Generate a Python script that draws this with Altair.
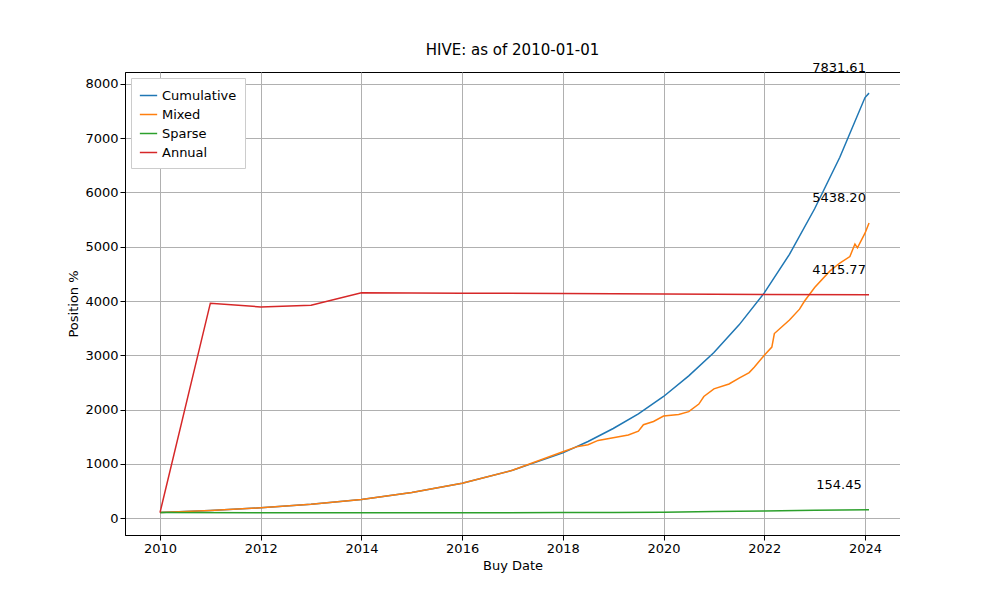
import altair as alt
import pandas as pd

cum_x = [2010, 2011, 2012, 2013, 2014, 2015, 2016, 2017, 2018, 2018.5, 2019, 2019.5, 2020,
         2020.5, 2021, 2021.5, 2022, 2022.5, 2023, 2023.5, 2024, 2024.08]
cum_y = [100, 140, 188, 252, 340, 470, 640, 880, 1200, 1410, 1650, 1920, 2240,
         2620, 3050, 3560, 4150, 4860, 5700, 6650, 7750, 7831.61]

mix_x = [2010, 2011, 2012, 2013, 2014, 2015, 2016, 2017, 2018, 2018.3, 2018.5, 2018.7, 2019,
         2019.3, 2019.5, 2019.6, 2019.8, 2020, 2020.3, 2020.5, 2020.7, 2020.8, 2021, 2021.3,
         2021.5, 2021.7, 2021.8, 2022, 2022.15, 2022.2, 2022.5, 2022.7, 2022.8, 2023, 2023.3,
         2023.5, 2023.7, 2023.8, 2023.85, 2024, 2024.08]
mix_y = [100, 140, 188, 252, 340, 470, 640, 880, 1220, 1320, 1350, 1430, 1480,
         1530, 1600, 1720, 1780, 1880, 1910, 1960, 2100, 2240, 2380, 2470,
         2580, 2680, 2780, 3000, 3150, 3400, 3650, 3850, 4000, 4250, 4550,
         4700, 4820, 5050, 4980, 5250, 5438.20]

spa_x = [2010, 2012, 2014, 2016, 2018, 2019, 2020, 2021, 2022, 2023, 2024.08]
spa_y = [100, 99, 98, 98, 100, 103, 108, 118, 130, 145, 154.45]

ann_x = [2010, 2011, 2012, 2013, 2014, 2016, 2018, 2020, 2022, 2024.08]
ann_y = [100, 3960, 3890, 3920, 4150, 4145, 4138, 4130, 4122, 4115.77]

series = ["Cumulative", "Mixed", "Sparse", "Annual"]
colors = ["#1f77b4", "#ff7f0e", "#2ca02c", "#d62728"]

rows = []
for name, xs, ys in [("Cumulative", cum_x, cum_y), ("Mixed", mix_x, mix_y),
                     ("Sparse", spa_x, spa_y), ("Annual", ann_x, ann_y)]:
    for i, (x, y) in enumerate(zip(xs, ys)):
        rows.append({"series": name, "year": x, "value": y, "order": i})
df = pd.DataFrame(rows)

last = df.loc[df.groupby("series")["order"].idxmax()].copy()
last["label"] = last["value"].map(lambda v: f"{v:.2f}")

x = alt.X("year:Q", title="Buy Date", scale=alt.Scale(domain=[2009.305, 2024.695], nice=False, zero=False),
          axis=alt.Axis(values=list(range(2010, 2025, 2)), format="d", grid=True))
y = alt.Y("value:Q", title="Position %", scale=alt.Scale(domain=[-313, 8221], nice=False),
          axis=alt.Axis(values=list(range(0, 8001, 1000)), format="d", grid=True))

lines = alt.Chart(df).mark_line(strokeWidth=1.5).encode(
    x=x, y=y, order="order:Q",
    color=alt.Color("series:N", scale=alt.Scale(domain=series, range=colors), sort=series,
                    legend=alt.Legend(title=None, orient="top-left", symbolType="stroke",
                                      symbolStrokeWidth=1.5, labelFontSize=13, strokeColor="#ccc",
                                      fillColor="white", padding=8, offset=6, symbolSize=300,
                                      labelFont="DejaVu Sans")),
)

labels = alt.Chart(last).mark_text(dy=-25, dx=-30, fontSize=13, align="center", color="black",
                                   font="DejaVu Sans").encode(x=x, y=y, text="label:N")

chart = (lines + labels).properties(
    width=775, height=463,
    title=alt.Title("HIVE: as of 2010-01-01", fontSize=15, fontWeight="normal", font="DejaVu Sans"),
    autosize=alt.AutoSizeParams(type="none"),
    padding={"left": 117, "top": 64, "right": 0, "bottom": 70},
).configure_axis(
    gridColor="#b0b0b0", gridOpacity=1, domainColor="black", tickColor="black",
    labelFontSize=13, titleFontSize=13, titleFontWeight="normal", labelColor="black", titleColor="black",
    labelFont="DejaVu Sans", titleFont="DejaVu Sans",
).configure_view(stroke="black")

chart.save("out.html", embed_options={"renderer": "svg", "actions": False})
